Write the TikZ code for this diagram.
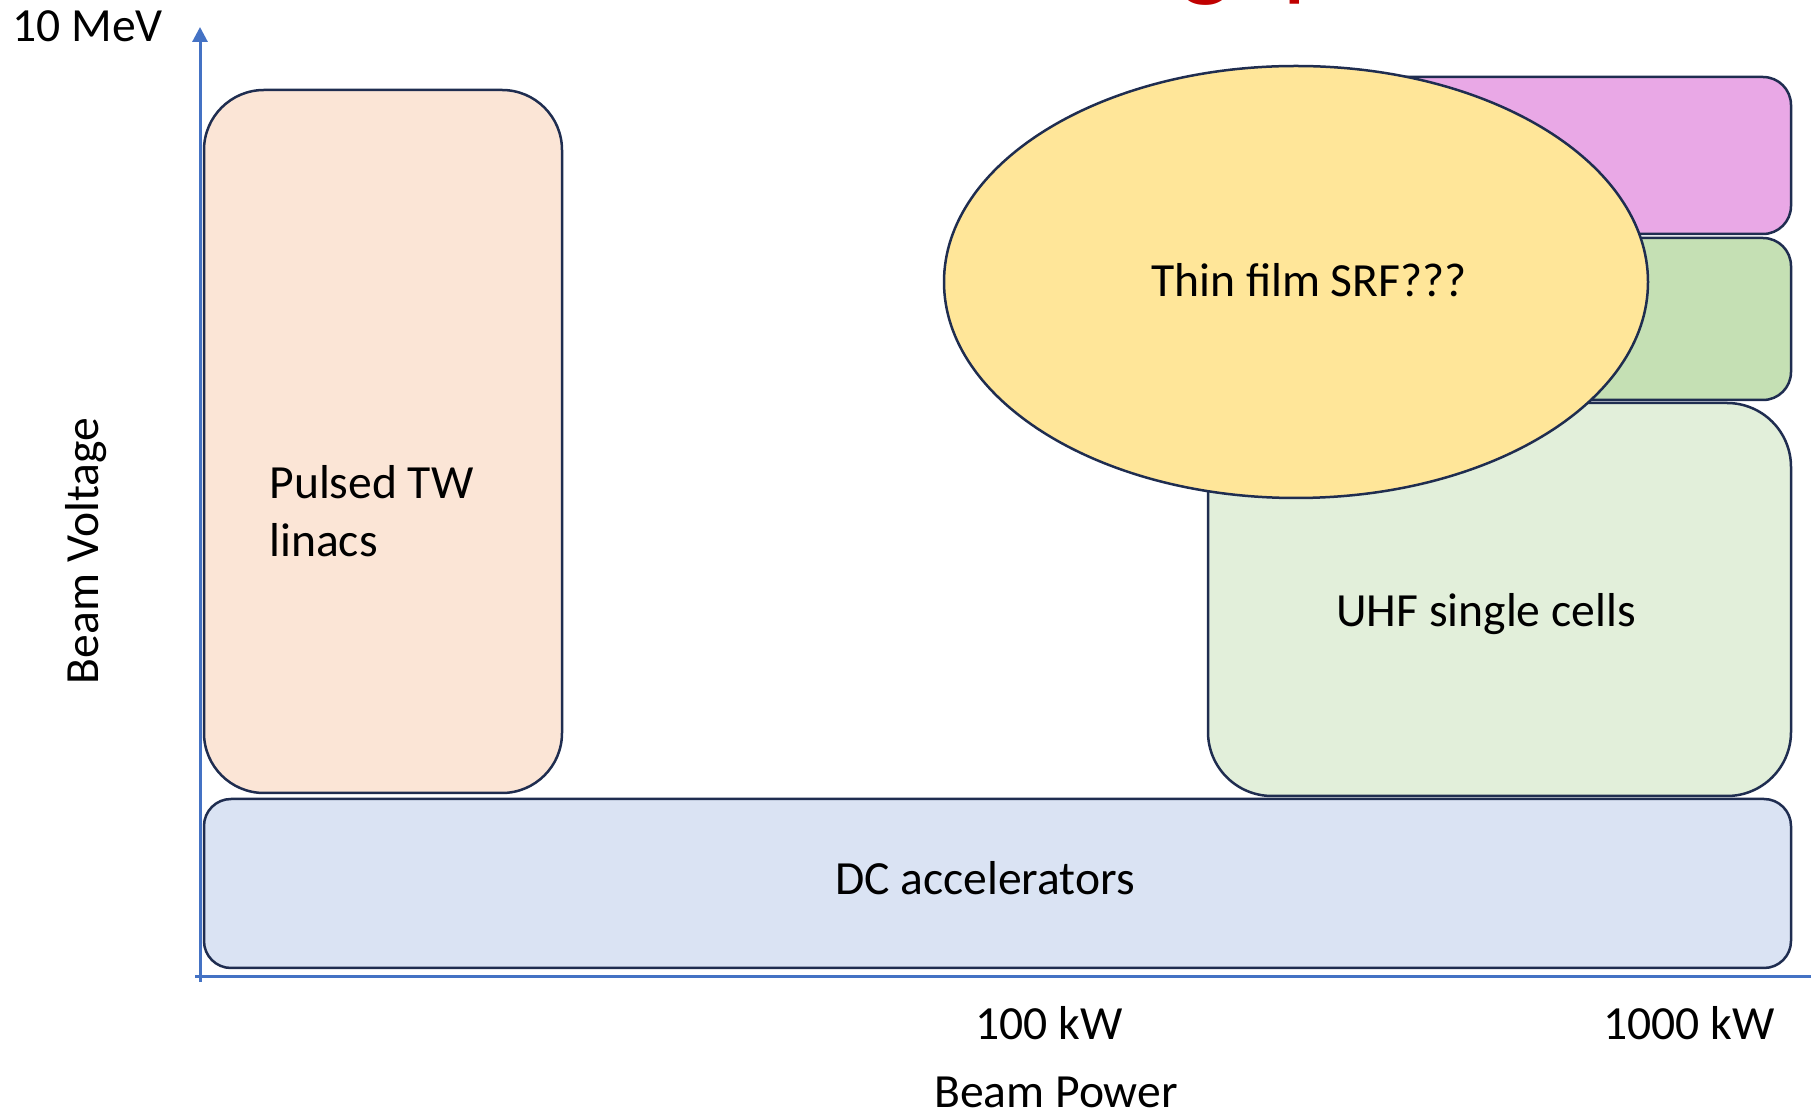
\documentclass[tikz,border=0pt]{standalone}
\usepackage{fontspec}
\setmainfont{Carlito}
\usetikzlibrary{arrows.meta}

\definecolor{outline}{HTML}{1F2D50}
\definecolor{axisblue}{HTML}{4472C4}
\definecolor{pulsedfill}{HTML}{FBE5D6}
\definecolor{dcfill}{HTML}{DAE3F3}
\definecolor{uhffill}{HTML}{E2EFDA}
\definecolor{greenfill}{HTML}{C5E0B4}
\definecolor{pinkfill}{HTML}{E9A8E6}
\definecolor{filmfill}{HTML}{FFE699}
\definecolor{titlered}{HTML}{C00000}

\begin{document}
\begin{tikzpicture}[x=0.5pt, y=-0.5pt,
  region/.style={draw=outline, line width=1.25pt},
  axisline/.style={draw=axisblue, line width=1.5pt},
  lbl/.style={inner sep=0pt, font=\fontsize{23.8pt}{29pt}\selectfont, text=black}]

\useasboundingbox (0,0) rectangle (1811,1111);

% title descenders peeking in at the top edge
\node[inner sep=0pt, anchor=base west, text=titlered,
      font=\fontsize{55pt}{60pt}\selectfont] (title) at (1180,-13) {gap};

% axes
\draw[axisline] (195,977) -- (1822,977);
\draw[axisline, -{Triangle[width=7.5pt,length=7.5pt]}] (200,982) -- (200,27);

% regions
\draw[region, fill=dcfill, rounded corners=13.5pt] (204,799) rectangle (1791,968);
\draw[region, fill=pulsedfill, rounded corners=30pt] (204,90) rectangle (562,793);
\draw[region, fill=uhffill, rounded corners=32pt] (1208,403) rectangle (1791,796);
\draw[region, fill=greenfill, rounded corners=14pt] (1208,238) rectangle (1791,400);
\draw[region, fill=pinkfill, rounded corners=14pt] (1208,77) rectangle (1791,234);
\draw[region, fill=filmfill] (1296,282) ellipse [x radius=352, y radius=216];

% labels
\node[lbl, anchor=base west] (vmax) at (12,42) {10 MeV};
\node[lbl, anchor=base, rotate=90] (vlabel) at (98,551) {Beam Voltage};
\node[lbl, anchor=base west] (pulsedA) at (269,499) {Pulsed TW};
\node[lbl, anchor=base west] (pulsedB) at (269,557) {linacs};
\node[lbl, anchor=base] (film) at (1309,297) {Thin film SRF???};
\node[lbl, anchor=base] (uhf) at (1486,627) {UHF single cells};
\node[lbl, anchor=base] (dc) at (985,895) {DC accelerators};
\node[lbl, anchor=base] (p100) at (1049,1039) {100 kW};
\node[lbl, anchor=base] (p1000) at (1689,1039) {1000 kW};
\node[lbl, anchor=base] (plabel) at (1056,1107) {Beam Power};

\end{tikzpicture}
\end{document}
